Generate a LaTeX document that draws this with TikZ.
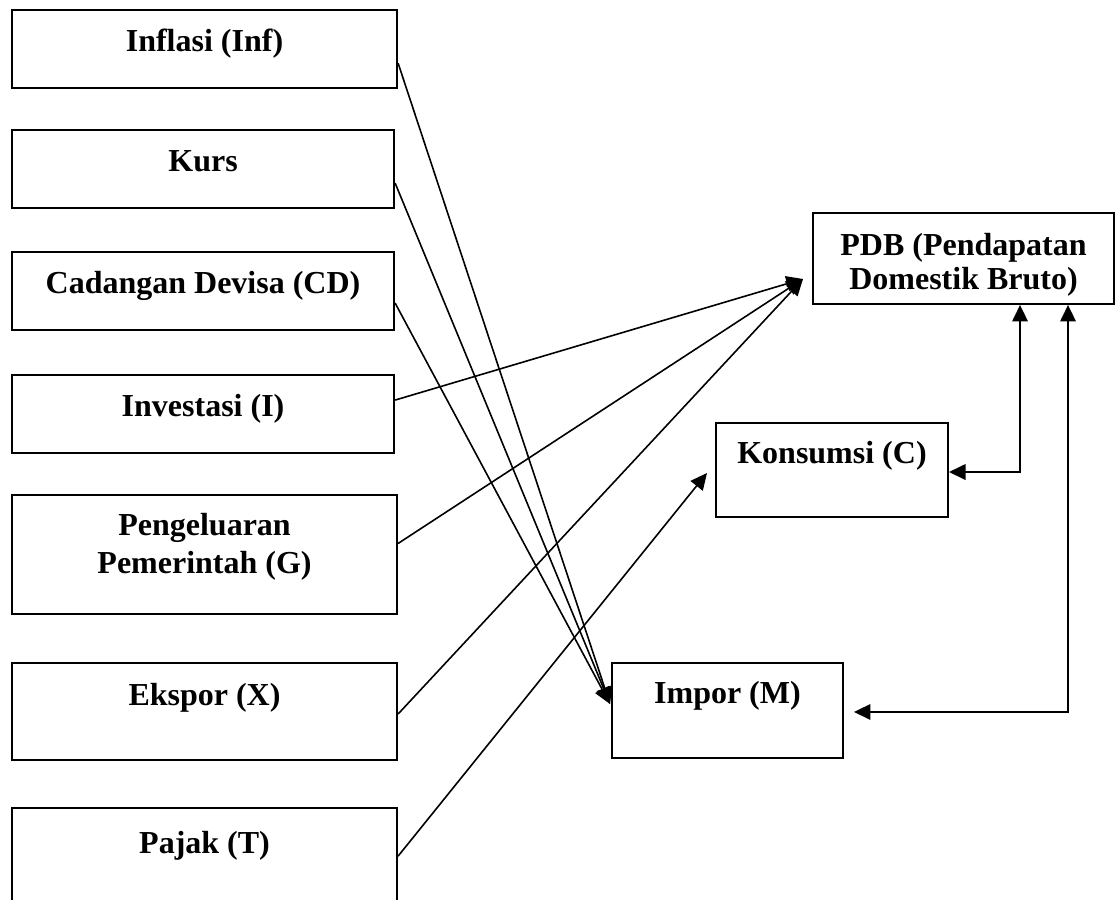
\documentclass[tikz,border=0pt]{standalone}
\usepackage{fontspec}
\setmainfont{Liberation Serif}
\usetikzlibrary{arrows.meta}

\tikzset{
    box/.style={draw, line width=0.75pt, anchor=north west, inner sep=0pt,
        align=flush center, text width=144.4pt, text height=15.4pt, text depth=#1,
        font=\fontsize{12}{13}\selectfont\bfseries},
    conn/.style={line width=0.6pt, -{Triangle[length=6.2pt,width=5.8pt]}},
    dconn/.style={line width=0.75pt, {Triangle[length=6.2pt,width=5.8pt]}-{Triangle[length=6.2pt,width=5.8pt]}}
}

\begin{document}
\begin{tikzpicture}[x=0.375pt, y=-0.375pt]
    \useasboundingbox (0,0) rectangle (1116,899);

    % variables on the left
    \node[box=13.9pt] (inf) at (11,9) {Inflasi (Inf)};
    \node[box=13.9pt, text width=143.3pt] (kurs) at (11,129) {Kurs};
    \node[box=13.9pt, text width=143.3pt] (cd) at (11,251) {Cadangan Devisa (CD)};
    \node[box=13.9pt, text width=143.3pt] (inv) at (11,374) {Investasi (I)};
    \node[box=29.6pt, text height=15pt] (peng) at (11,494) {Pengeluaran\\[1.6pt] Pemerintah (G)};
    \node[box=20.4pt, text height=16pt] (eks) at (11,662) {Ekspor (X)};
    \node[box=27.75pt, text height=17pt] (pajak) at (11,807) {Pajak (T)};

    % targets
    \node[box=18.3pt, text width=112.9pt, text height=15.8pt,
        font=\fontsize{12}{12.75}\selectfont\bfseries] (pdb) at (812,212)
        {PDB (Pendapatan\\ Domestik Bruto)};
    \node[box=20.25pt, text width=87pt, text height=15pt] (kons) at (715,422) {Konsumsi (C)};
    \node[box=20.6pt, text width=86.6pt, text height=15pt] (impor) at (611,662) {Impor (M)};

    \coordinate (imporin) at ([shift={(-1,-6.5)}]impor.west);
    \coordinate (pdbin) at ([shift={(-9,20.5)}]pdb.west);
    \coordinate (konsin) at ([shift={(-8,3)}]kons.west);

    % arrows
    \foreach \src/\dy in {inf/14, kurs/14, cd/12}
        \draw[conn] ([shift={(0,\dy)}]\src.east) -- (imporin);
    \foreach \src/\dy in {inv/-14, peng/-11, eks/2.5}
        \draw[conn] ([shift={(0,\dy)}]\src.east) -- (pdbin);
    \draw[conn] ([shift={(0,-11.5)}]pajak.east) -- (konsin);

    % feedback to PDB
    \draw[dconn] ([shift={(56.5,0)}]pdb.south) |- ([shift={(0,2)}]kons.east);
    \draw[dconn] ([shift={(104.5,0)}]pdb.south) |- ([shift={(10,1.5)}]impor.east);

\end{tikzpicture}
\end{document}
